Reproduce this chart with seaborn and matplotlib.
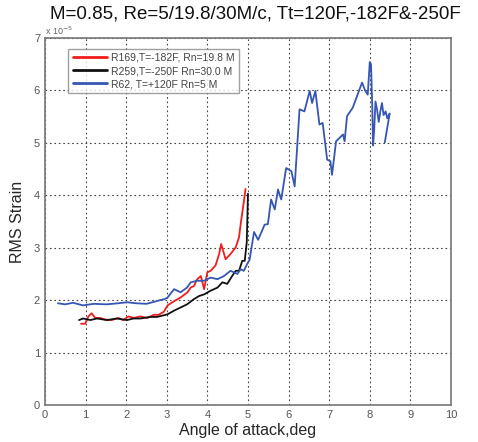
import pandas as pd
import matplotlib
matplotlib.use("Agg")
import matplotlib.pyplot as plt
import seaborn as sns

# Readings (RMS strain, units of 1e-5)
r169_alpha = [0.89, 0.99, 1.07, 1.15, 1.24, 1.36, 1.48, 1.64, 1.81, 1.93, 2.06, 2.19, 2.35,
              2.52, 2.68, 2.80, 2.93, 3.02, 3.18, 3.34, 3.51, 3.59, 3.67, 3.75, 3.84, 3.92,
              4.00, 4.08, 4.20, 4.29, 4.34, 4.45, 4.57, 4.70, 4.78, 4.82, 4.89, 4.94]
r169_rms = [1.55, 1.55, 1.69, 1.75, 1.66, 1.66, 1.63, 1.62, 1.66, 1.62, 1.69, 1.66, 1.69,
            1.66, 1.72, 1.72, 1.78, 1.90, 1.98, 2.05, 2.15, 2.24, 2.27, 2.40, 2.46, 2.21,
            2.53, 2.56, 2.66, 2.88, 3.07, 2.78, 2.88, 3.01, 3.20, 3.45, 3.83, 4.12]

r259_alpha = [0.84, 0.94, 1.12, 1.28, 1.53, 1.77, 2.02, 2.18, 2.35, 2.60, 2.76, 2.92, 3.02,
              3.18, 3.34, 3.50, 3.67, 3.80, 3.92, 4.08, 4.25, 4.37, 4.49, 4.61, 4.70, 4.78,
              4.86, 4.92, 4.97, 5.00]
r259_rms = [1.62, 1.65, 1.62, 1.65, 1.62, 1.65, 1.62, 1.65, 1.65, 1.68, 1.68, 1.71, 1.73,
            1.80, 1.86, 1.92, 2.02, 2.08, 2.11, 2.18, 2.24, 2.34, 2.31, 2.46, 2.56, 2.56,
            2.75, 2.75, 3.10, 4.03]

r62_alpha = [0.32, 0.50, 0.69, 0.94, 1.20, 1.52, 1.80, 2.02, 2.25, 2.50, 2.70, 2.83, 2.95,
             3.02, 3.18, 3.34, 3.50, 3.59, 3.75, 3.92, 4.08, 4.25, 4.41, 4.57, 4.74, 4.82,
             4.90, 4.98, 5.04, 5.15, 5.25, 5.41, 5.49, 5.57, 5.66, 5.74, 5.82, 5.94, 6.07,
             6.15, 6.27, 6.39, 6.52, 6.58, 6.66, 6.76, 6.84, 6.95, 7.03, 7.07, 7.17, 7.34,
             7.38, 7.44, 7.58, 7.70, 7.81, 7.89, 7.95, 8.00, 8.03, 8.06, 8.08, 8.11, 8.14,
             8.18, 8.22, 8.26, 8.30, 8.34, 8.39, 8.43, 8.47, 8.49, 8.37]
r62_rms = [1.94, 1.92, 1.95, 1.90, 1.93, 1.92, 1.94, 1.96, 1.94, 1.93, 1.97, 2.00, 2.02,
           2.05, 2.21, 2.15, 2.24, 2.34, 2.37, 2.37, 2.43, 2.40, 2.46, 2.56, 2.50, 2.59,
           2.56, 2.69, 2.77, 3.30, 3.15, 3.44, 3.45, 3.92, 3.73, 4.11, 3.92, 4.52, 4.46,
           4.17, 5.64, 5.60, 5.99, 5.76, 5.99, 5.35, 5.38, 4.68, 4.65, 4.39, 5.03, 5.16,
           5.03, 5.51, 5.67, 5.92, 6.15, 5.99, 5.92, 6.54, 6.50, 5.73, 4.95, 5.27, 5.79,
           5.63, 5.40, 5.60, 5.76, 5.53, 5.60, 5.47, 5.53, 5.56, 5.01]

labels = ["R169,T=-182F, Rn=19.8 M", "R259,T=-250F Rn=30.0 M", "R62, T=+120F Rn=5 M"]
colors = ["#f21c1c", "#111111", "#3656b4"]

frames = []
for lab, a, r in zip(labels, [r169_alpha, r259_alpha, r62_alpha], [r169_rms, r259_rms, r62_rms]):
    frames.append(pd.DataFrame({"alpha": a, "rms": r, "run": lab}))
df = pd.concat(frames, ignore_index=True)

sns.set_style("white")
plt.rcParams["font.family"] = ["Liberation Sans", "DejaVu Sans"]
fig = plt.figure(figsize=(4.78, 4.42), dpi=100)
ax = fig.add_axes([0.094, 0.0837, 0.8495, 0.8303])

sns.lineplot(data=df, x="alpha", y="rms", hue="run", palette=dict(zip(labels, colors)),
             sort=False, estimator=None, linewidth=1.3, ax=ax, legend=False)

ax.set_xlim(0, 10)
ax.set_ylim(0, 7)
ax.set_xticks(range(0, 11))
ax.set_yticks(range(0, 8))
ax.grid(True, linestyle=(0, (1.5, 2.5)), color="#444444", linewidth=0.8)
ax.tick_params(direction="in", length=4, labelsize=8, labelcolor="#555555", color="#555555")
for s in ax.spines.values():
    s.set_color("#777777")
    s.set_linewidth(1.2)

ax.set_xlabel("Angle of attack,deg", fontsize=11.5, labelpad=2)
ax.set_ylabel("RMS Strain", fontsize=11.5, labelpad=6)
fig.text(0.105, 0.968, "M=0.85, Re=5/19.8/30M/c, Tt=120F,-182F&-250F", fontsize=13.5,
         ha="left", va="center", color="#111111")
ax.text(0.0, 1.003, "x 10$^{-5}$", transform=ax.transAxes, fontsize=6.5, color="#666666",
        va="bottom")

handles = [plt.Line2D([], [], color=c, linewidth=2) for c in colors]
leg = ax.legend(handles, labels, loc="upper left", bbox_to_anchor=(0.045, 0.985), fontsize=7.5,
                frameon=True, fancybox=False, handlelength=3.3, borderpad=0.4,
                labelspacing=0.3, handletextpad=0.4)
leg.get_frame().set_edgecolor("#888888")
leg.get_frame().set_linewidth(1.0)
for t in leg.get_texts():
    t.set_color("#444444")

fig.savefig("out.png", dpi=100)
